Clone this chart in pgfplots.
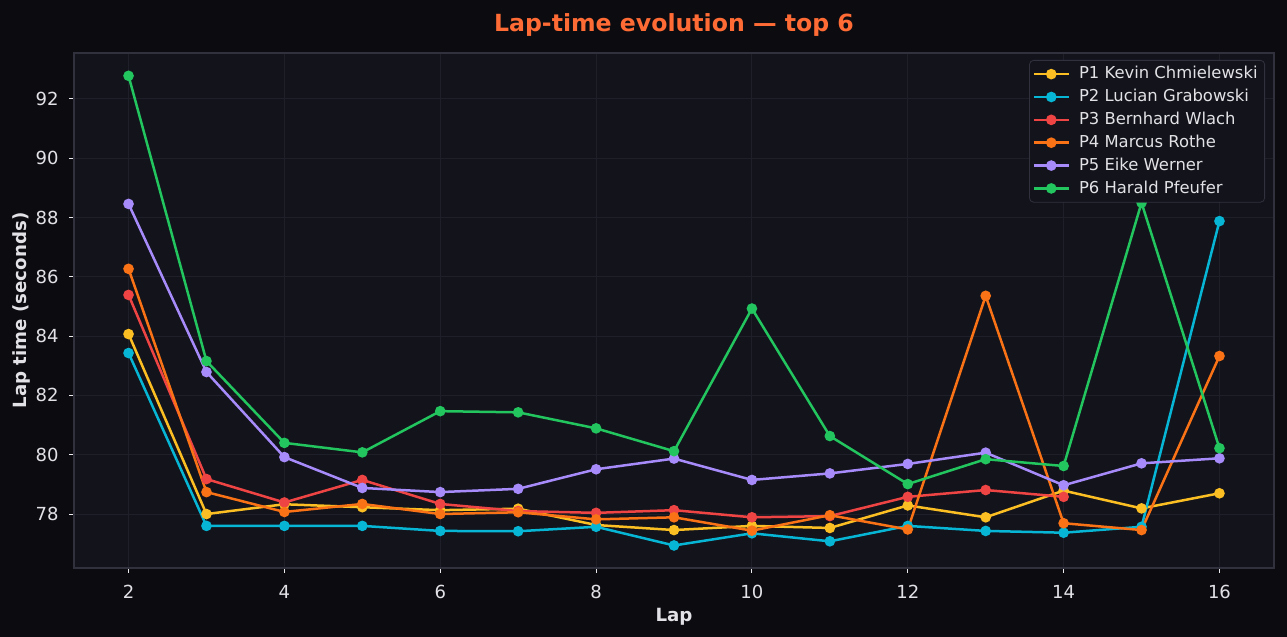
\documentclass[border=0pt]{standalone}
\usepackage{pgfplots}
\pgfplotsset{compat=1.18}
\usepackage{fontspec}
\setmainfont{DejaVu Sans}
\usetikzlibrary{calc}
\definecolor{figbg}{HTML}{0B0B10}
\definecolor{axbg}{HTML}{12131B}
\definecolor{gridc}{HTML}{1E1F29}
\definecolor{framec}{HTML}{30313C}
\definecolor{txt}{HTML}{E2E2E6}
\definecolor{titlec}{HTML}{FF6B35}
\definecolor{cA}{HTML}{FBBF24}
\definecolor{cB}{HTML}{06B6D4}
\definecolor{cC}{HTML}{EF4444}
\definecolor{cD}{HTML}{F97316}
\definecolor{cE}{HTML}{A78BFA}
\definecolor{cF}{HTML}{22C55E}
\begin{document}
\begin{tikzpicture}
\useasboundingbox (0,0) rectangle (643.5pt,318.5pt);
\fill[figbg] (0,0) rectangle (643.5pt,318.5pt);
\begin{axis}[
  at={(37pt,34.5pt)}, anchor=south west,
  scale only axis, width=600pt, height=257.5pt,
  xmin=1.3, xmax=16.7, ymin=76.18, ymax=93.55,
  xtick={2,4,...,16}, ytick={78,80,...,92},
  axis background/.style={fill=axbg},
  axis line style={framec, line width=0.6pt},
  grid=major, major grid style={gridc, line width=0.5pt},
  tick align=outside, tick pos=left, major tick length=2.5pt,
  every tick/.style={color=txt!70, line width=0.5pt},
  /pgf/number format/assume math mode=true,
  ticklabel style={font=\fontsize{9}{10}\selectfont, text=txt},
  xticklabel style={anchor=base, yshift=-15.25pt+2.5pt},
  yticklabel style={anchor=east, inner sep=0pt, xshift=-7.5pt+2.5pt},
  title={Lap-time evolution — top 6},
  title style={at={(axis description cs:0.5,1)}, anchor=base, yshift=4.5pt, font=\fontsize{11.8}{14}\selectfont\bfseries, text=titlec},
  xlabel={Lap},
  xlabel style={at={(axis description cs:0.5,0)}, anchor=base, yshift=-27pt, font=\fontsize{9.1}{11}\selectfont\bfseries, text=txt},
  ylabel={Lap time (seconds)},
  ylabel style={at={($(axis description cs:0,0.5)+(-24pt,0)$)}, anchor=base, rotate=0, font=\fontsize{9.1}{11}\selectfont\bfseries, text=txt},
  every axis plot/.append style={line width=1.25pt, mark=*, mark size=2pt, mark options={solid}},
  legend style={at={(rel axis cs:1,1)}, anchor=north east, xshift=-4.5pt, yshift=-3.5pt,
    fill=axbg, draw=framec, rounded corners=2pt, text=txt,
    font=\fontsize{8.2}{9.5}\selectfont, row sep=-0.3pt, inner xsep=1.5pt, inner ysep=1pt},
  legend cell align=left,
  legend image code/.code={\draw[mark repeat=2,mark phase=2] plot coordinates {(0pt,0pt) (8.75pt,0pt) (17.5pt,0pt)}; \path (20pt,0pt);},
]
\addplot[cA] coordinates {(2,84.07)(3,78.0)(4,78.33)(5,78.23)(6,78.13)(7,78.18)(8,77.63)(9,77.46)(10,77.6)(11,77.53)(12,78.29)(13,77.89)(14,78.79)(15,78.19)(16,78.7)};
\addlegendentry{P1 Kevin Chmielewski}
\addplot[cB] coordinates {(2,83.43)(3,77.6)(4,77.6)(5,77.6)(6,77.43)(7,77.42)(8,77.57)(9,76.94)(10,77.35)(11,77.08)(12,77.6)(13,77.43)(14,77.37)(15,77.57)(16,87.88)};
\addlegendentry{P2 Lucian Grabowski}
\addplot[cC] coordinates {(2,85.39)(3,79.18)(4,78.39)(5,79.15)(6,78.34)(7,78.1)(8,78.04)(9,78.13)(10,77.89)(11,77.93)(12,78.58)(13,78.81)(14,78.58)};
\addlegendentry{P3 Bernhard Wlach}
\addplot[cD] coordinates {(2,86.27)(3,78.74)(4,78.07)(5,78.34)(6,78.0)(7,78.06)(8,77.82)(9,77.89)(10,77.44)(11,77.96)(12,77.48)(13,85.36)(14,77.69)(15,77.46)(16,83.33)};
\addlegendentry{P4 Marcus Rothe}
\addplot[cE] coordinates {(2,88.46)(3,82.79)(4,79.92)(5,78.88)(6,78.74)(7,78.85)(8,79.51)(9,79.87)(10,79.15)(11,79.37)(12,79.69)(13,80.07)(14,78.97)(15,79.71)(16,79.88)};
\addlegendentry{P5 Eike Werner}
\addplot[cF] coordinates {(2,92.78)(3,83.16)(4,80.40)(5,80.08)(6,81.47)(7,81.43)(8,80.89)(9,80.12)(10,84.93)(11,80.63)(12,79.01)(13,79.85)(14,79.62)(15,88.5)(16,80.22)};
\addlegendentry{P6 Harald Pfeufer}
\end{axis}
\end{tikzpicture}
\end{document}
